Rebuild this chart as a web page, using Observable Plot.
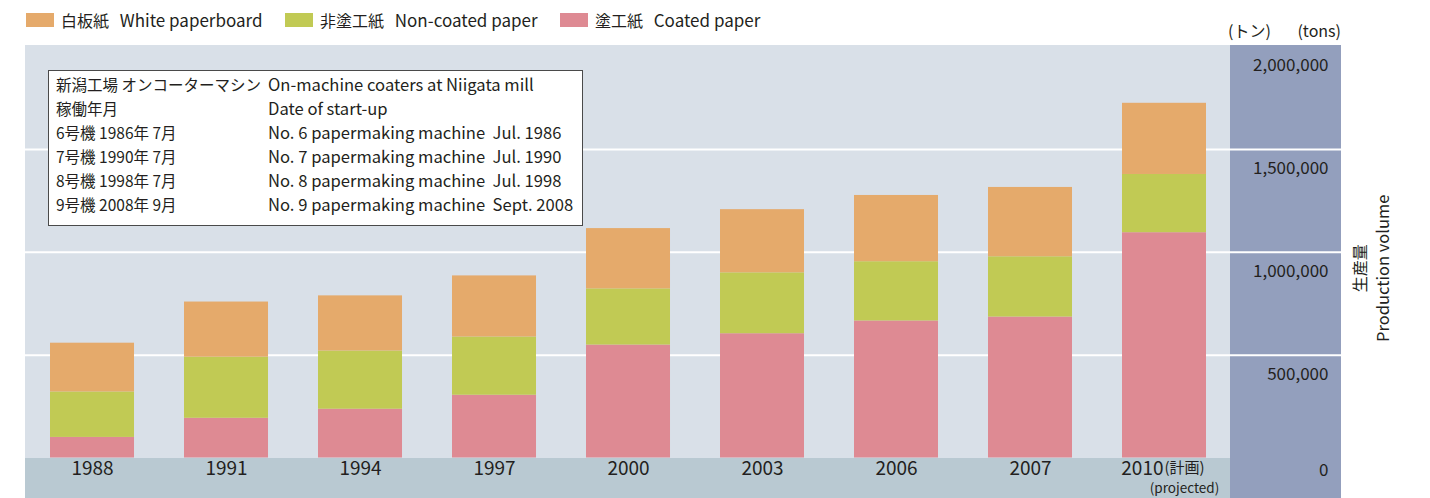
<!DOCTYPE html>
<html><head><meta charset="utf-8">
<script src="https://cdn.jsdelivr.net/npm/d3@7"></script>
<script src="https://cdn.jsdelivr.net/npm/@observablehq/plot@0.6"></script>
<style>
body{margin:0;background:#fff;font-family:"Noto Sans CJK JP","Noto Sans",sans-serif;color:#231f20}
#wrap{position:relative;width:1430px;height:498px;overflow:hidden}
#legend{position:relative;width:1430px;height:45px}
.item{position:absolute;top:11px;display:flex;align-items:center;font-size:16px;line-height:18px;white-space:pre}
.item .en{font-size:17px}
.sw{width:28px;height:14px;margin-right:7px}
.unit{position:absolute;top:21px;font-size:16px;line-height:18px}
#note{position:absolute;left:48px;top:70px;width:535px;height:156px;box-sizing:border-box;border:1.2px solid #4a4a4a;background:#fff;padding:1px 0 0 7px;font-size:15.5px}
#note .row{display:flex;height:24px;align-items:center;white-space:pre}
#note .ja{width:212px}
#note .en{font-size:16.6px}
</style>
</head><body>
<div id="wrap">
  <div id="legend"></div>
  <div id="chart"></div>
  <div id="note"></div>
</div>
<script>
// ---- data ----
const years = ["1988","1991","1994","1997","2000","2003","2006","2007","2010"];
const coated    = [100000,193000,237000,305000,549000,604000,666000,685000,1095000];
const nonCoated = [221000,297000,283000,283000,273000,296000,288000,293000,283000];
const whiteBoard= [237000,268000,268000,297000,293000,307000,322000,337000,346000];
const seriesEn = ["Coated paper","Non-coated paper","White paperboard"];
const seriesJa = ["塗工紙","非塗工紙","白板紙"];
const seriesColors = ["#de8a93","#c1ca54","#e5aa6b"];
const legendOrder = [2,1,0];
const yTicks = [500000,1000000,1500000,2000000];
const gridTicks = [500000,1000000,1500000];
const noteJa = ["新潟工場 オンコーターマシン","稼働年月","6号機 1986年 7月","7号機 1990年 7月","8号機 1998年 7月","9号機 2008年 9月"];
const noteEn = ["On-machine coaters at Niigata mill","Date of start-up","No. 6 papermaking machine  Jul. 1986","No. 7 papermaking machine  Jul. 1990","No. 8 papermaking machine  Jul. 1998","No. 9 papermaking machine  Sept. 2008"];
const unitJa = "(トン)", unitEn = "(tons)";
const axisTitleJa = "生産量", axisTitleEn = "Production volume";
const projectedYear = "2010", projectedJa = "(計画)", projectedEn = "(projected)";

// ---- table ----
const seriesValues = [coated, nonCoated, whiteBoard];
const rows = [];
years.forEach((y, i) => seriesEn.forEach((s, k) => rows.push({year: y, series: s, value: seriesValues[k][i]})));

// ---- legend ----
const legend = document.getElementById("legend");
const legendX = [26, 285, 560];
legendOrder.forEach((k, j) => {
  const d = document.createElement("div");
  d.className = "item";
  d.style.left = legendX[j] + "px";
  d.innerHTML = `<span class="sw" style="background:${seriesColors[k]}"></span><span>${seriesJa[k]}   </span><span class="en">${seriesEn[k]}</span>`;
  legend.appendChild(d);
});
const u1 = document.createElement("div"); u1.className = "unit"; u1.style.left = "1228px"; u1.textContent = unitJa; legend.appendChild(u1);
const u2 = document.createElement("div"); u2.className = "unit"; u2.style.right = (1430-1341) + "px"; u2.textContent = unitEn; legend.appendChild(u2);

// ---- note box ----
const note = document.getElementById("note");
noteJa.forEach((t, i) => {
  const r = document.createElement("div");
  r.className = "row";
  r.innerHTML = `<span class="ja">${t}</span><span class="en">${noteEn[i]}</span>`;
  note.appendChild(r);
});

// ---- background panels ----
function panels(index, scales, values, dims) {
  const {width, height, marginRight} = dims;
  const right = width - marginRight;       // end of axis panel
  const axisLeft = right - 111;            // start of axis panel
  const bottom = height - dims.marginBottom;
  const g = d3.create("svg:g");
  g.append("rect").attr("x", dims.marginLeft).attr("y", 0).attr("width", axisLeft - dims.marginLeft).attr("height", bottom + 0.5).attr("fill", "#d9e0e8");
  g.append("rect").attr("x", dims.marginLeft).attr("y", bottom + 0.5).attr("width", axisLeft - dims.marginLeft + 1).attr("height", height - bottom).attr("fill", "#b9c9d2");
  g.append("rect").attr("x", axisLeft).attr("y", 0).attr("width", right - axisLeft).attr("height", height).attr("fill", "#939fbd");
  return g.node();
}

const font = "Noto Sans CJK JP";
const chart = Plot.plot({
  width: 1430,
  height: 453,
  marginLeft: 25,
  marginRight: 89,
  marginTop: 1,
  marginBottom: 40.5,
  style: {fontFamily: font, color: "#231f20", background: "transparent", overflow: "visible"},
  x: {type: "band", domain: years, range: [25, 1228], paddingInner: 0.3731, paddingOuter: 0.1754, align: 0.532, round: false, label: null},
  y: {domain: [0, 2000000], label: null},
  color: {domain: seriesEn, range: seriesColors},
  marks: [
    panels,
    Plot.gridY({ticks: gridTicks, stroke: "#ffffff", strokeOpacity: 1, strokeWidth: 2}),
    Plot.barY(rows, {x: "year", y: "value", fill: "series"}),
    Plot.axisY({anchor: "right", ticks: yTicks, tickSize: 0, tickPadding: 0, textAnchor: "end", dx: -13, dy: 19, fontSize: 17, tickFormat: d3.format(","), label: null}),
    Plot.axisY({anchor: "right", ticks: [0], tickSize: 0, tickPadding: 0, textAnchor: "end", dx: -13, dy: 13, fontSize: 17, tickFormat: d3.format(","), label: null}),
    Plot.axisX({tickSize: 0, tickPadding: 3, fontSize: 19, tickFormat: d => d === projectedYear ? "" : d, label: null}),
    Plot.text([projectedYear], {x: d => d, frameAnchor: "bottom", text: d => d, textAnchor: "end", lineAnchor: "top", dy: 3, dx: -1, fontSize: 19}),
    Plot.text([projectedJa], {x: () => projectedYear, frameAnchor: "bottom", text: d => d, textAnchor: "start", lineAnchor: "top", dy: 4, dx: 0, fontSize: 15}),
    Plot.text([projectedEn], {x: () => projectedYear, frameAnchor: "bottom", text: d => d, textAnchor: "middle", lineAnchor: "top", dy: 25, dx: 20, fontSize: 13.5}),
    Plot.text([axisTitleJa], {frameAnchor: "right", text: d => d, rotate: -90, textAnchor: "middle", dx: 19, dy: 16, fontSize: 16}),
    Plot.text([axisTitleEn], {frameAnchor: "right", text: d => d, rotate: -90, textAnchor: "middle", dx: 42, dy: 16, fontSize: 16.5})
  ]
});
document.getElementById("chart").appendChild(chart);
</script>
</body></html>
